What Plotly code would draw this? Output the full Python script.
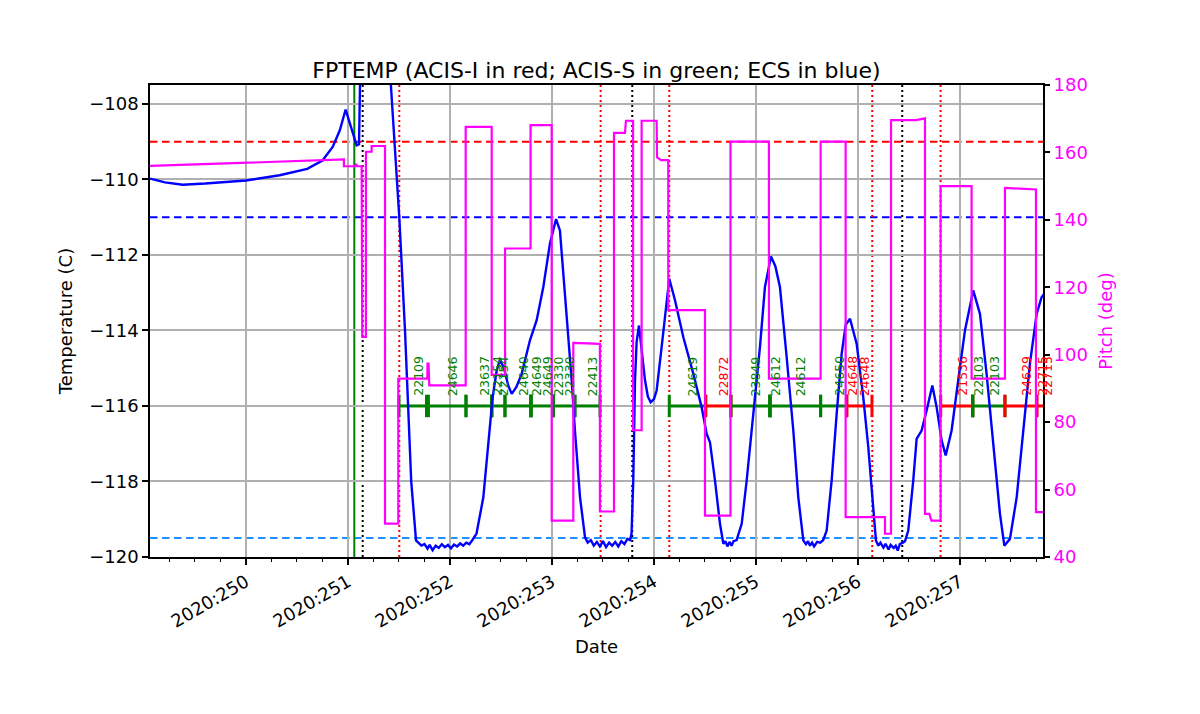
import plotly.graph_objects as go

# ---- data (day of year 2020, fractional) ----
temp_day = [
    249.06, 249.206, 249.38, 249.60, 250.00, 250.33, 250.60, 250.75, 250.85, 250.92,
    250.977, 251.036, 251.085, 251.108, 251.14, 251.35, 251.42, 251.503, 251.559, 251.59,
    251.62, 251.667, 251.69, 251.72, 251.75, 251.78, 251.80, 251.83, 251.86, 251.89,
    251.92, 251.95, 251.98, 252.01, 252.04, 252.07, 252.10, 252.13, 252.16, 252.19,
    252.22, 252.26, 252.327, 252.376, 252.418, 252.458, 252.49, 252.53, 252.57, 252.605,
    252.65, 252.703, 252.784, 252.85, 252.915, 252.98, 253.04, 253.078, 253.144, 253.193,
    253.225, 253.275, 253.324, 253.35, 253.38, 253.41, 253.44, 253.47, 253.50, 253.53,
    253.56, 253.59, 253.62, 253.65, 253.68, 253.71, 253.74, 253.765, 253.78, 253.797,
    253.814, 253.83, 253.853, 253.879, 253.912, 253.94, 253.968, 254.00, 254.026, 254.075,
    254.118, 254.15, 254.206, 254.288, 254.386, 254.467, 254.517, 254.549, 254.598, 254.647,
    254.68, 254.70, 254.72, 254.74, 254.76, 254.78, 254.81, 254.86, 254.909, 254.974,
    255.039, 255.088, 255.147, 255.19, 255.235, 255.301, 255.366, 255.415, 255.464, 255.49,
    255.51, 255.53, 255.55, 255.57, 255.60, 255.63, 255.66, 255.693, 255.742, 255.791,
    255.84, 255.88, 255.922, 255.987, 256.052, 256.101, 256.15, 256.176, 256.20, 256.22,
    256.25, 256.27, 256.30, 256.32, 256.35, 256.37, 256.39, 256.41, 256.44, 256.461,
    256.493, 256.542, 256.575, 256.624, 256.673, 256.729, 256.771, 256.82, 256.86, 256.918,
    256.983, 257.049, 257.13, 257.196, 257.261, 257.327, 257.392, 257.435, 257.49, 257.556,
    257.621, 257.686, 257.752, 257.80, 257.82,
]
temp_val = [
    -109.98, -110.08, -110.14, -110.11, -110.03, -109.89, -109.72, -109.50, -109.14, -108.70,
    -108.15, -108.70, -109.10, -109.07, -104.0, -104.5, -107.5, -111.0, -114.0, -116.0,
    -118.0, -119.56, -119.62, -119.70, -119.66, -119.78, -119.68, -119.82, -119.70, -119.76,
    -119.66, -119.74, -119.68, -119.77, -119.67, -119.72, -119.64, -119.70, -119.62, -119.66,
    -119.55, -119.38, -118.42, -117.09, -115.77, -115.06, -114.78, -115.00, -115.45, -115.68,
    -115.50, -115.15, -114.26, -113.73, -112.85, -111.70, -111.05, -111.35, -113.56, -115.32,
    -116.65, -118.42, -119.48, -119.62, -119.55, -119.70, -119.60, -119.72, -119.58, -119.74,
    -119.62, -119.70, -119.60, -119.72, -119.58, -119.66, -119.52, -119.55, -119.38, -117.97,
    -115.32, -114.30, -113.87, -114.44, -115.32, -115.75, -115.90, -115.82, -115.59, -114.44,
    -113.38, -112.63, -113.20, -114.18, -115.15, -116.03, -116.74, -116.96, -117.97, -119.12,
    -119.65, -119.58, -119.72, -119.60, -119.70, -119.58, -119.55, -119.12, -117.97, -116.21,
    -114.44, -112.85, -112.04, -112.30, -112.85, -114.71, -116.65, -118.42, -119.56, -119.66,
    -119.58, -119.70, -119.62, -119.72, -119.60, -119.62, -119.55, -119.30, -117.97, -116.21,
    -114.62, -113.85, -113.69, -114.35, -115.77, -117.09, -118.86, -119.56, -119.70, -119.62,
    -119.75, -119.65, -119.80, -119.68, -119.76, -119.70, -119.83, -119.66, -119.62, -119.58,
    -119.30, -117.97, -116.87, -116.65, -116.12, -115.46, -116.03, -116.91, -117.31, -116.65,
    -115.32, -114.00, -112.94, -113.56, -115.15, -117.09, -118.86, -119.70, -119.52, -118.42,
    -116.65, -114.88, -113.56, -113.12, -113.05,
]

pitch_day = [
    249.06, 250.96, 250.96, 251.07, 251.08, 251.09, 251.134, 251.14, 251.176, 251.176,
    251.232, 251.232, 251.363, 251.363, 251.493, 251.493, 251.778, 251.78, 251.79, 251.797,
    252.154, 252.154, 252.409, 252.409, 252.54, 252.54, 252.79, 252.79, 252.997, 252.997,
    253.209, 253.209, 253.47, 253.47, 253.608, 253.608, 253.716, 253.725, 253.795, 253.795,
    253.879, 253.879, 254.026, 254.03, 254.07, 254.14, 254.14, 254.50, 254.50, 254.75,
    254.75, 255.127, 255.127, 255.634, 255.634, 255.879, 255.879, 256.265, 256.265, 256.324,
    256.324, 256.569, 256.657, 256.657, 256.70, 256.72, 256.81, 256.81, 257.114, 257.114,
    257.441, 257.441, 257.745, 257.745, 257.82,
]
pitch_val = [
    156.0, 157.9, 155.9, 155.9, 156.6, 155.9, 155.9, 105.3, 105.3, 160.2,
    160.2, 161.9, 161.9, 49.9, 49.9, 92.9, 92.9, 97.4, 97.4, 90.9,
    90.9, 167.6, 167.6, 94.0, 94.0, 131.5, 131.5, 168.1, 168.1, 50.8,
    50.8, 103.5, 103.2, 53.5, 53.5, 165.8, 165.8, 169.4, 169.4, 77.6,
    77.6, 169.4, 169.4, 158.5, 157.7, 157.7, 113.2, 113.2, 52.3, 52.3,
    163.2, 163.2, 92.9, 92.9, 163.2, 163.2, 51.8, 51.8, 46.9, 46.9,
    169.6, 169.6, 170.1, 52.8, 52.8, 50.8, 50.8, 150.0, 150.0, 92.9,
    92.9, 149.5, 149.0, 53.3, 53.3,
]

# observation intervals
obs_id = ['22109', '24646', '23637', '22154', '22154', '24640', '24649', '24649',
          '22330', '22330', '22413', '24619', '22872', '23849', '24612', '24612',
          '24650', '24648', '24648', '21536', '22103', '22103', '24629', '22715', '22715']
obs_start = [251.500, 251.789, 252.157, 252.409, 252.409, 252.539, 252.794, 252.794,
             253.013, 253.013, 253.225, 254.150, 254.507, 254.755, 255.137, 255.137,
             255.634, 255.889, 255.889, 256.811, 257.125, 257.125, 257.441, 257.752, 257.752]
obs_stop = [251.770, 252.157, 252.409, 252.409, 252.539, 252.794, 252.794, 253.013,
            253.013, 253.225, 253.471, 254.507, 254.755, 255.137, 255.137, 255.634,
            255.889, 255.889, 256.137, 257.125, 257.125, 257.441, 257.752, 257.752, 257.853]
obs_instr = ['S', 'S', 'S', 'S', 'S', 'S', 'S', 'S', 'S', 'S', 'S', 'S', 'I', 'S', 'S', 'S',
             'S', 'I', 'I', 'I', 'S', 'S', 'I', 'I', 'I']
OBS_LEVEL = -116.0

# reference lines
hlines = [(-109.0, 'red'), (-111.0, 'blue'), (-112.0, 'purple'), (-119.5, '#1e90ff')]
green_vlines = [251.062]
black_vlines = [251.144, 253.787, 256.434]
red_vlines = [251.503, 253.477, 254.150, 256.140, 256.810]

day_ticks = [250, 251, 252, 253, 254, 255, 256, 257]
day_labels = [f"2020:{d}" for d in day_ticks]

FONT = "DejaVu Sans"
instr_color = {'I': 'red', 'S': 'green'}

fig = go.Figure()

# obsid bars
for oid, t0, t1, ins in zip(obs_id, obs_start, obs_stop, obs_instr):
    c = instr_color[ins]
    fig.add_trace(go.Scatter(x=[t0, t1], y=[OBS_LEVEL, OBS_LEVEL],
                             mode='lines+markers',
                             line=dict(color=c, width=3),
                             marker=dict(symbol='line-ns', size=16,
                                         line=dict(color=c, width=3)),
                             showlegend=False, hoverinfo='skip'))
    fig.add_annotation(x=(t0 + t1) / 2, y=OBS_LEVEL + 0.21, xref='x', yref='y',
                       text=oid, textangle=-90, showarrow=False,
                       xanchor='center', yanchor='bottom', xshift=5,
                       font=dict(family=FONT, size=12.5, color=c))

fig.add_trace(go.Scatter(x=temp_day, y=temp_val, mode='lines',
                         line=dict(color='blue', width=2.4),
                         showlegend=False))

fig.add_trace(go.Scatter(x=pitch_day, y=pitch_val, mode='lines', yaxis='y2',
                         line=dict(color='magenta', width=2.2),
                         showlegend=False))

for v, c in hlines:
    fig.add_hline(y=v, line=dict(color=c, width=2, dash='7.5px,4.5px'), layer='below')
for v in green_vlines:
    fig.add_vline(x=v, line=dict(color='green', width=2), layer='below')
for v in black_vlines:
    fig.add_vline(x=v, line=dict(color='black', width=2, dash='2px,3px'), layer='below')
for v in red_vlines:
    fig.add_vline(x=v, line=dict(color='red', width=2, dash='2px,3px'), layer='below')

# page body has an 8px margin, so the figure is sized to fit inside the window
fig.update_layout(
    width=1192, height=706,
    margin=dict(l=142, r=157, t=77, b=157),
    paper_bgcolor='white', plot_bgcolor='white',
    font=dict(family=FONT, size=18, color='black'),
    title=dict(text="FPTEMP (ACIS-I in red; ACIS-S in green; ECS in blue)",
               x=0.5, xref='paper', xanchor='center',
               y=1, yref='paper', yanchor='bottom', pad=dict(b=7),
               font=dict(family=FONT, size=22, color='black')),
    xaxis=dict(range=[249.059, 257.814], tickmode='array',
               tickvals=day_ticks, ticktext=day_labels, tickangle=-30,
               showgrid=True, gridcolor='#b0b0b0', gridwidth=1.5,
               zeroline=False, showline=True, linecolor='black', linewidth=1.5,
               mirror=True, ticks='outside', ticklen=6, tickwidth=1.5, tickcolor='black',
               minor=dict(tickmode='linear', tick0=250, dtick=0.25, ticks='outside',
                          ticklen=3.5, tickwidth=1, tickcolor='black', showgrid=False),
               title=dict(text='Date', standoff=10, font=dict(size=18))),
    yaxis=dict(range=[-120, -107.5], tickmode='linear', tick0=-120, dtick=2,
               tickformat='d',
               showgrid=True, gridcolor='#b0b0b0', gridwidth=1.5,
               zeroline=False, showline=True, linecolor='black', linewidth=1.5,
               mirror=True, ticks='outside', ticklen=6, tickwidth=1.5, tickcolor='black',
               title=dict(text='Temperature (C)', standoff=12, font=dict(size=18))),
    yaxis2=dict(range=[40, 180], tickmode='linear', tick0=40, dtick=20,
                overlaying='y', side='right', showgrid=False, zeroline=False,
                showline=False, ticks='outside', ticklen=6, tickwidth=1.5,
                tickcolor='black', tickfont=dict(color='magenta'),
                title=dict(text='Pitch (deg)', standoff=12,
                           font=dict(size=18, color='magenta'))),
)

fig.write_html("out.html")
